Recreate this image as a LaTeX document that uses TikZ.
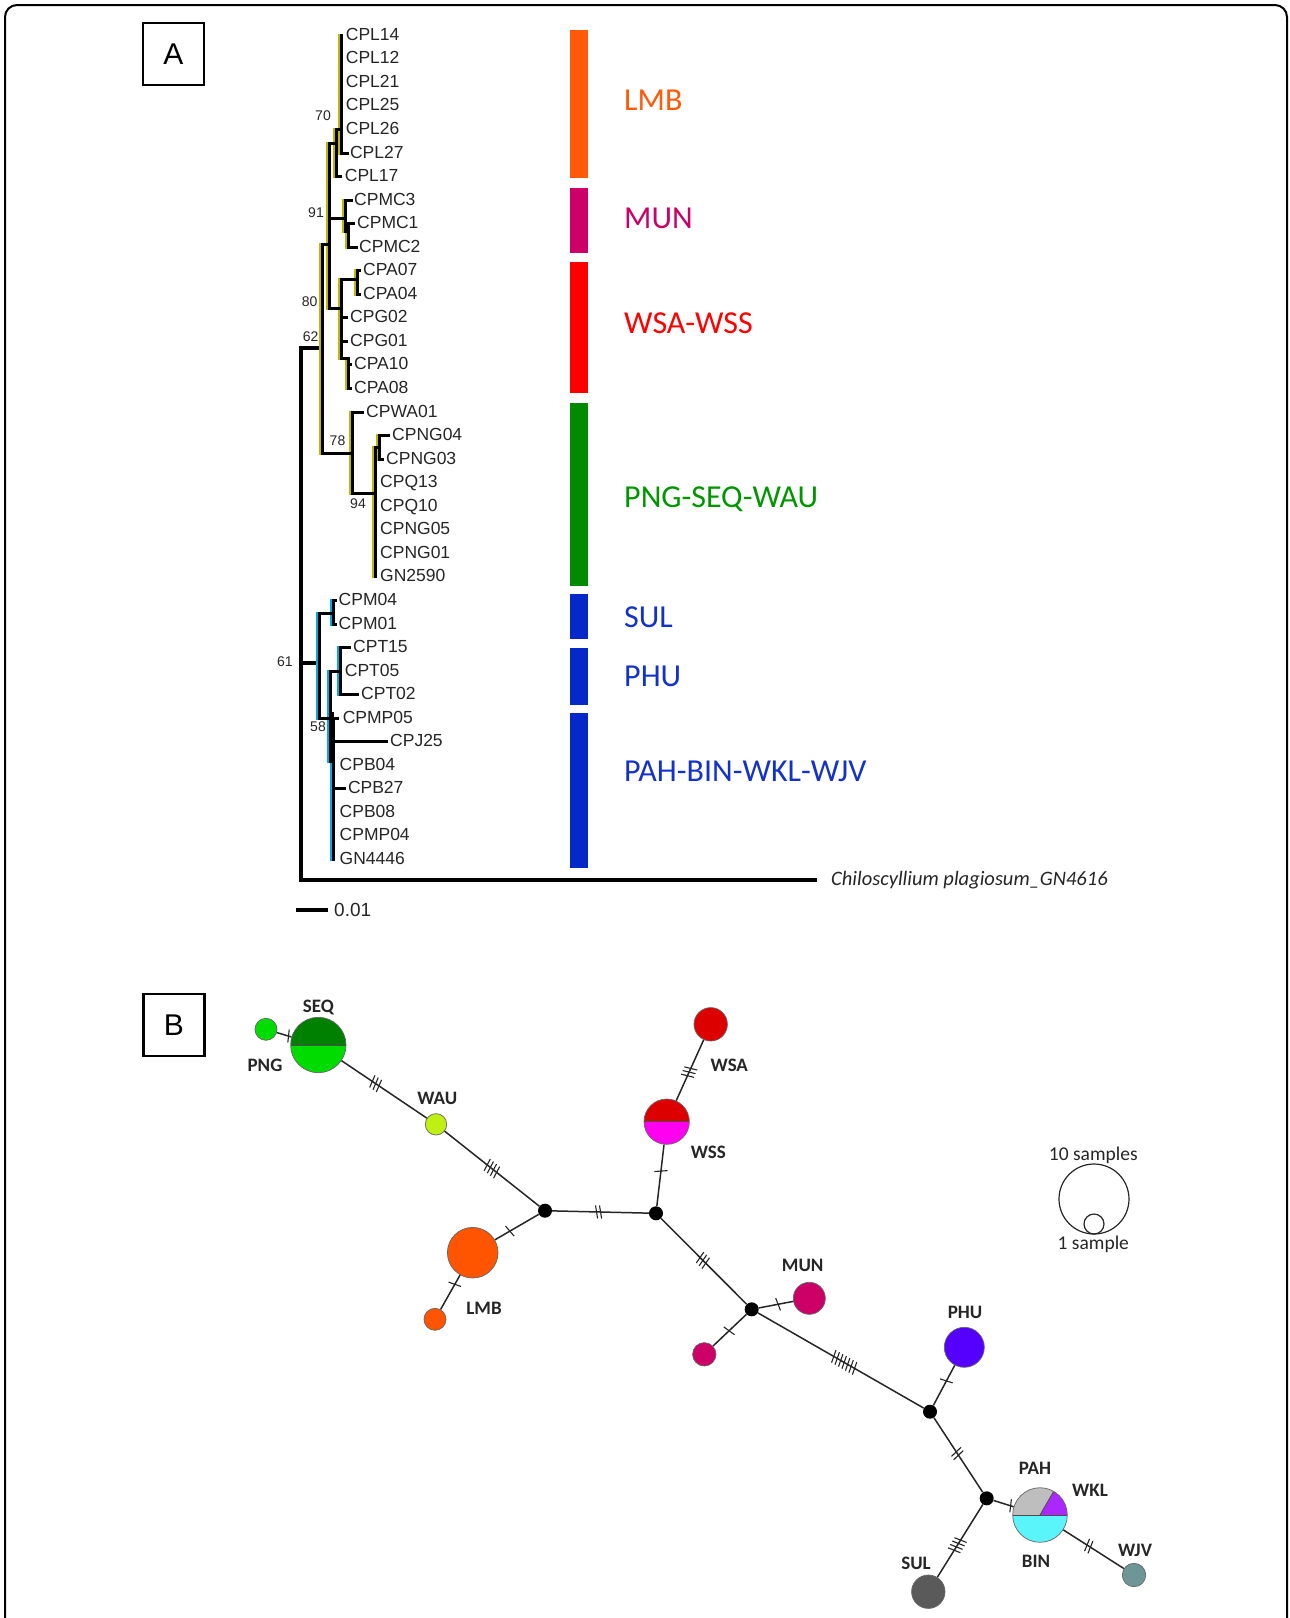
\documentclass[tikz,border=0pt]{standalone}
\usepackage{fontspec}
\setmainfont{Liberation Sans}
\newfontfamily\calfnt{Carlito}
\usetikzlibrary{decorations.markings}
\definecolor{lmbc}{RGB}{255,90,10}
\definecolor{munc}{RGB}{204,0,102}
\definecolor{wsac}{RGB}{255,0,0}
\definecolor{pngc}{RGB}{0,138,0}
\definecolor{bluc}{RGB}{5,40,200}
\definecolor{blut}{RGB}{20,50,200}
\definecolor{yshd}{RGB}{190,185,0}
\definecolor{bshd}{RGB}{0,170,230}
\definecolor{seqd}{RGB}{0,128,0}
\definecolor{seql}{RGB}{0,220,0}
\definecolor{wauc}{RGB}{190,240,20}
\definecolor{lmbn}{RGB}{255,85,0}
\definecolor{wsan}{RGB}{220,0,0}
\definecolor{wssc}{RGB}{255,0,240}
\definecolor{phuc}{RGB}{85,0,255}
\definecolor{pahc}{RGB}{190,190,190}
\definecolor{wklc}{RGB}{170,40,255}
\definecolor{binc}{RGB}{90,245,250}
\definecolor{wjvc}{RGB}{110,150,150}
\definecolor{sulc}{RGB}{90,90,90}
\begin{document}
\begin{tikzpicture}[x=1pt,y=-1pt,
  tlab/.style={anchor=west, inner sep=0pt, text height=12.5pt, text depth=0pt, font=\fontsize{17.5}{17.5}\selectfont, text=black!85},
  bsv/.style={inner sep=0pt, font=\fontsize{14}{14}\selectfont, text=black!85},
  grp/.style={anchor=west, inner sep=0pt, text height=20.5pt, text depth=0pt, font=\calfnt\fontsize{32}{32}\selectfont},
  blab/.style={inner sep=0pt, text height=12pt, text depth=0pt, font=\calfnt\bfseries\fontsize{19}{19}\selectfont, text=black!85},
  hap/.style={circle, draw=black!60, line width=0.7pt, inner sep=0pt, minimum size=#1},
  jn/.style={circle, fill=black, inner sep=0pt, minimum size=14pt},
  edg/.style={line width=1.5pt, black!85},
  mt/.style n args={2}{postaction={decorate,decoration={markings,mark=at position #1 with {\foreach \q in {1,...,#2}{\draw[line width=1.1pt,black!85] ({(\q-(#2+1)/2)*4-1.2},-6.5) -- ({(\q-(#2+1)/2)*4+1.2},6.5);}}}}},
  pbox/.style={draw, line width=2.5pt, minimum width=61pt, minimum height=62pt, inner sep=0pt, font=\fontsize{30}{30}\selectfont}
]
\useasboundingbox (0,0) rectangle (1290,1618);
\fill[white] (0,0) rectangle (1290,1618);
% outer frame
\draw[line width=2pt, rounded corners=12pt] (5,1660) -- (5,5) -- (1287,5) -- (1287,1660);

% panel labels
\node[pbox] (boxA) at (173.5,54) {A};
\node[pbox] (boxB) at (174,1025) {B};

% ---------------- tree -----------------
% root
\draw[line width=3.8pt, line cap=rect] (301,348) -- (301,880) -- (815,880);
\draw[line width=3.2pt, line cap=rect] (301,348) -- (322,348) (301,663) -- (319,663);
% upper clades (yellow shadow then black)
\foreach \col/\dx/\w in {yshd/-1.3pt/2.8pt, black/0pt/3pt}{
\draw[\col, line width=\w, line cap=rect, xshift=\dx, yshift=-1.2pt]
 (322,243) -- (322,452) (322,243) -- (329,243)
 (329,142) -- (329,307) (329,142) -- (336,142)
 (336,128) -- (336,175) (336,128) -- (341,128)
 (341,34) -- (341,152) (341,152) -- (347,152) (336,175) -- (340,175)
 (329,217) -- (345,217) (345,199) -- (345,230) (345,199) -- (351,199)
 (345,222.4) -- (353,222.4) (348,222.4) -- (348,246) -- (356,246)
 (329,307) -- (341,307) (341,278) -- (341,357) (341,278) -- (357,278)
 (357,269.5) -- (357,293) (357,269.5) -- (359,269.5) (357,293) -- (359,293)
 (341,316.6) -- (346,316.6) (341,340) -- (346,340)
 (341,357) -- (348,357) (348,357) -- (348,387) (348,363.7) -- (350,363.7) (348,387) -- (350,387)
 (322,452) -- (352,452) (352,410.8) -- (352,492) (352,410.8) -- (362,410.8)
 (352,492) -- (375,492) (375,446) -- (375,575.7) (375,446) -- (379,446)
 (379,434.4) -- (379,458) (379,434.4) -- (388,434.4) (379,458) -- (382,458);
}
% lower clades (blue shadow then black)
\foreach \col/\dx/\w in {bshd/-1.3pt/2.8pt, black/0pt/3pt}{
\draw[\col, line width=\w, line cap=rect, xshift=\dx, yshift=-1.2pt]
 (319,612) -- (319,717) (319,612) -- (333,612)
 (333,599) -- (333,623) (333,599) -- (335,599) (333,623) -- (335,623)
 (319,717) -- (330,717) (330,670) -- (330,760) (330,670) -- (340,670)
 (340,646) -- (340,693.4) (340,646) -- (349,646) (340,693.4) -- (357,693.4)
 (333,717) -- (333,858) (333,717) -- (337,717)
 (333,740.5) -- (386,740.5) (333,787.6) -- (344,787.6);
}
\draw[line width=5pt] (331,712) -- (331,758);

% tip labels
\foreach \nm/\lx/\i in {CPL14/345.7/0, CPL12/345.7/1, CPL21/345.7/2, CPL25/345.7/3, CPL26/345.7/4,
  CPL27/349.8/5, CPL17/344.7/6, CPMC3/354/7, CPMC1/357/8, CPMC2/359/9, CPA07/363/10, CPA04/363/11,
  CPG02/350/12, CPG01/350/13, CPA10/354/14, CPA08/354/15, CPWA01/366/16, CPNG04/392/17, CPNG03/386/18,
  CPQ13/380/19, CPQ10/380/20, CPNG05/380/21, CPNG01/380/22, GN2590/380/23, CPM04/338.5/24, CPM01/338.5/25,
  CPT15/353/26, CPT05/344.7/27, CPT02/361/28, CPMP05/342.6/29, CPJ25/390/30, CPB04/339.5/31,
  CPB27/347.8/32, CPB08/339.5/33, CPMP04/339.5/34, GN4446/339.5/35}{
  \node[tlab] (t\nm) at (\lx,{34+23.55*\i}) {\nm};
}
\node[anchor=west, inner sep=0pt, font=\calfnt\itshape\fontsize{20.5}{20.5}\selectfont, text=black!85] (tout) at (831,880) {Chiloscyllium plagiosum\_GN4616};

% bootstrap values
\node[bsv] (b70) at (323,115.6) {70};
\node[bsv] (b91) at (316,212.6) {91};
\node[bsv] (b80) at (309.6,301.3) {80};
\node[bsv] (b62) at (310.6,336.4) {62};
\node[bsv] (b78) at (337.5,440.7) {78};
\node[bsv] (b94) at (358,503.6) {94};
\node[bsv] (b61) at (284.8,661.5) {61};
\node[bsv] (b58) at (318,726.5) {58};

% scale bar
\draw[line width=3.5pt] (296,910) -- (328,910);
\node[tlab, text height=13.5pt, font=\fontsize{19}{19}\selectfont] (sc) at (334,910) {0.01};

% clade bars and labels
\fill[lmbc] (570,30) rectangle (588,178);
\fill[munc] (570,188) rectangle (588,253);
\fill[wsac] (570,262) rectangle (588,393);
\fill[pngc] (570,402.5) rectangle (588,586);
\fill[bluc] (570,594) rectangle (588,639);
\fill[bluc] (570,648) rectangle (588,705);
\fill[bluc] (570,713) rectangle (588,868);
\node[grp, text=lmbc] (gLMB) at (624,100) {LMB};
\node[grp, text=munc] (gMUN) at (624,218) {MUN};
\node[grp, text=wsac] (gWSA) at (624,323) {WSA-WSS};
\node[grp, text=pngc!90!green] (gPNG) at (624,497) {PNG-SEQ-WAU};
\node[grp, text=blut] (gSUL) at (624,617) {SUL};
\node[grp, text=blut] (gPHU) at (624,676) {PHU};
\node[grp, text=blut] (gPAH) at (624,771) {PAH-BIN-WKL-WJV};

% ---------------- network -----------------
\node[hap=22pt, fill=seql] (png) at (266,1029.3) {};
\node[hap=55.4pt, path picture={
  \fill[seqd] (path picture bounding box.north west) rectangle (path picture bounding box.east);
  \fill[seql] (path picture bounding box.west) rectangle (path picture bounding box.south east);
  \draw[black!70, line width=0.8pt] (path picture bounding box.west) -- (path picture bounding box.east);}] (seq) at (318.3,1045) {};
\node[hap=21.4pt, fill=wauc] (wau) at (436,1124.3) {};
\node[jn] (j1) at (545,1210.7) {};
\node[hap=50.6pt, fill=lmbn] (lmb) at (472.7,1252.7) {};
\node[hap=22pt, fill=lmbn] (lmbs) at (435,1319.3) {};
\node[hap=33.4pt, fill=wsan] (wsa) at (710.7,1024.3) {};
\node[hap=45.4pt, path picture={
  \fill[wsan] (path picture bounding box.north west) rectangle (path picture bounding box.east);
  \fill[wssc] (path picture bounding box.west) rectangle (path picture bounding box.south east);
  \draw[black!70, line width=0.8pt] (path picture bounding box.west) -- (path picture bounding box.east);}] (wss) at (666.7,1121.7) {};
\node[jn] (j2) at (656,1213.3) {};
\node[jn] (j3) at (751.7,1309.3) {};
\node[hap=32pt, fill=munc] (mun) at (809.3,1298.3) {};
\node[hap=23.4pt, fill=munc] (muns) at (704.3,1354.3) {};
\node[jn] (j4) at (930,1411.7) {};
\node[hap=40pt, fill=phuc] (phu) at (964.3,1347.3) {};
\node[jn] (j5) at (986.7,1498.3) {};
\node[hap=54.6pt, path picture={
  \fill[binc] (path picture bounding box.west) rectangle (path picture bounding box.south east);
  \fill[pahc] (path picture bounding box.north west) rectangle (path picture bounding box.east);
  \fill[wklc] (path picture bounding box.center) -- ++(35,0) -- ++(-17.5,-30.3) -- cycle;
  \draw[black!70, line width=0.8pt] (path picture bounding box.west) -- (path picture bounding box.east);
  \draw[black!70, line width=0.8pt] (path picture bounding box.center) -- ++(13.65,-23.64);}] (pah) at (1040,1515) {};
\node[hap=23.4pt, fill=wjvc] (wjv) at (1134,1575) {};
\node[hap=33.4pt, fill=sulc] (sul) at (928.3,1591.7) {};

\draw[edg, mt={0.8}{1}] (png) -- (seq);
\draw[edg, mt={0.4}{3}] (seq) -- (wau);
\draw[edg, mt={0.5}{4}] (wau) -- (j1);
\draw[edg, mt={0.66}{1}] (j1) -- (lmb);
\draw[edg, mt={0.27}{1}] (lmb) -- (lmbs);
\draw[edg, mt={0.48}{2}] (j1) -- (j2);
\draw[edg, mt={0.53}{3}] (wsa) -- (wss);
\draw[edg, mt={0.43}{1}] (wss) -- (j2);
\draw[edg, mt={0.49}{3}] (j2) -- (j3);
\draw[edg, mt={0.56}{1}] (j3) -- (mun);
\draw[edg, mt={0.52}{1}] (j3) -- (muns);
\draw[edg, mt={0.52}{7}] (j3) -- (j4);
\draw[edg, mt={0.61}{1}] (j4) -- (phu);
\draw[edg, mt={0.48}{2}] (j4) -- (j5);
\draw[edg, mt={0.85}{1}] (j5) -- (pah);
\draw[edg, mt={0.42}{2}] (pah) -- (wjv);
\draw[edg, mt={0.56}{4}] (j5) -- (sul);

\node[blab] (lSEQ) at (318.3,1006.7) {SEQ};
\node[blab] (lPNG) at (265,1065) {PNG};
\node[blab] (lWAU) at (437.3,1098.3) {WAU};
\node[blab] (lLMB) at (484,1308.3) {LMB};
\node[blab] (lWSA) at (729.3,1065) {WSA};
\node[blab] (lWSS) at (708.3,1152.7) {WSS};
\node[blab] (lMUN) at (802.7,1265) {MUN};
\node[blab] (lPHU) at (965,1312.7) {PHU};
\node[blab] (lPAH) at (1035,1468.3) {PAH};
\node[blab] (lWKL) at (1090,1490) {WKL};
\node[blab] (lBIN) at (1036,1561.7) {BIN};
\node[blab] (lWJV) at (1135,1550) {WJV};
\node[blab] (lSUL) at (916,1563.3) {SUL};

% legend
\node[circle, draw=black!85, line width=1.2pt, minimum size=70pt, inner sep=0pt] (lg10) at (1094,1199) {};
\node[circle, draw=black!85, line width=1.2pt, minimum size=20pt, inner sep=0pt] (lg1) at (1094,1224) {};
\node[anchor=south, inner sep=0pt, font=\calfnt\fontsize{19.5}{19.5}\selectfont, text=black!85] (lgt10) at (1093.3,1164) {10 samples};
\node[anchor=north, inner sep=0pt, font=\calfnt\fontsize{19.5}{19.5}\selectfont, text=black!85] (lgt1) at (1093.3,1236) {1 sample};
\end{tikzpicture}
\end{document}
